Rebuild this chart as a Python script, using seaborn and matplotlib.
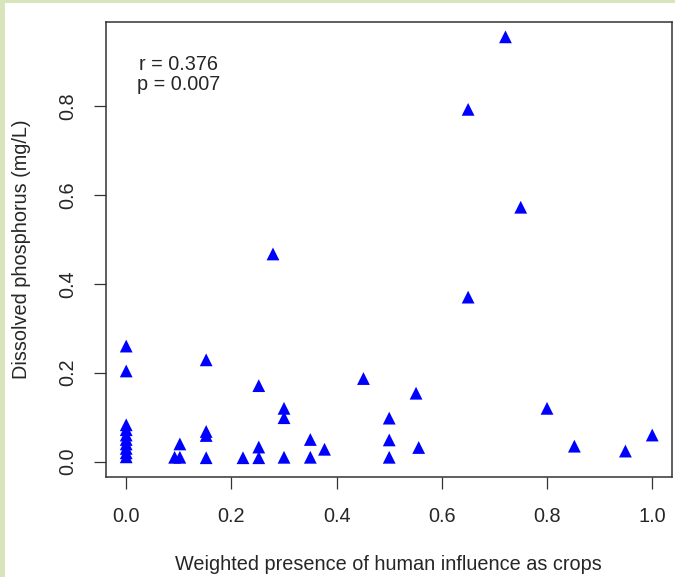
import pandas as pd
import matplotlib
matplotlib.use("Agg")
import matplotlib.pyplot as plt
from matplotlib.patches import Rectangle
import seaborn as sns

# === Data ===
crops = [0.0, 0.0, 0.0, 0.0, 0.0, 0.0, 0.0, 0.0, 0.0, 0.0,
         0.092, 0.102, 0.102,
         0.152, 0.152, 0.152, 0.152,
         0.222,
         0.252, 0.252, 0.252,
         0.279,
         0.30, 0.30, 0.30,
         0.35, 0.35,
         0.377,
         0.451,
         0.50, 0.50, 0.50,
         0.551, 0.556,
         0.65, 0.65,
         0.721,
         0.75,
         0.80,
         0.852,
         0.949,
         1.0]
phosphorus = [0.260, 0.204, 0.083, 0.072, 0.060, 0.050, 0.040, 0.030, 0.020, 0.011,
              0.010, 0.010, 0.040,
              0.229, 0.068, 0.059, 0.009,
              0.009,
              0.171, 0.033, 0.009,
              0.467,
              0.120, 0.099, 0.010,
              0.050, 0.010,
              0.028,
              0.187,
              0.098, 0.049, 0.010,
              0.154, 0.032,
              0.792, 0.370,
              0.955,
              0.572,
              0.120,
              0.035,
              0.024,
              0.060]

x_ticks = [0.0, 0.2, 0.4, 0.6, 0.8, 1.0]
y_ticks = [0.0, 0.2, 0.4, 0.6, 0.8]
stats_text = ["r = 0.376", "p = 0.007"]

df = pd.DataFrame({"crops": crops, "phosphorus": phosphorus})

sns.set_style("white")
plt.rcParams["font.family"] = ["Liberation Sans", "DejaVu Sans"]
fs = 14.3

fig = plt.figure(figsize=(6.75, 5.77), dpi=100)
ax = fig.add_axes([105.7 / 675, 1 - 477.3 / 577, 566 / 675, 455.6 / 577])

sns.scatterplot(data=df, x="crops", y="phosphorus", marker="^", s=85,
                color="#0000ff", edgecolor="none", linewidth=0, ax=ax)

ax.set_xlim(-0.039, 1.037)
ax.set_ylim(-0.035, 0.989)
ax.set_xticks(x_ticks)
ax.set_yticks(y_ticks)
ax.set_xticklabels([f"{t:.1f}" for t in x_ticks])
ax.set_yticklabels([f"{t:.1f}" for t in y_ticks], rotation=90, va="center")
ax.tick_params(axis="both", direction="out", length=8.3, width=0.9,
               color="#333333", labelsize=fs, bottom=True, left=True)
ax.tick_params(axis="x", pad=13.0)
ax.tick_params(axis="y", pad=12.5)

for sp in ax.spines.values():
    sp.set_color("#333333")
    sp.set_linewidth(1.1)

ax.set_xlabel("Weighted presence of human influence as crops", fontsize=fs)
ax.set_ylabel("Dissolved phosphorus (mg/L)", fontsize=fs)
ax.xaxis.set_label_coords(0.5, -(555 - 477.3) / 455.6)
ax.yaxis.set_label_coords(-(105.7 - 31) / 566, 0.5)

# correlation note, two lines
ax.text(0.1286, (477.3 - 70) / 455.6, stats_text[0], transform=ax.transAxes,
        ha="center", va="baseline", fontsize=fs)
ax.text(0.1286, (477.3 - 90) / 455.6, stats_text[1], transform=ax.transAxes,
        ha="center", va="baseline", fontsize=fs)

# light green frame on the left and top edges
fig.add_artist(Rectangle((0, 0), 5 / 675, 1, transform=fig.transFigure,
                         color="#d8e4bc", lw=0))
fig.add_artist(Rectangle((0, 1 - 3 / 577), 1, 3 / 577, transform=fig.transFigure,
                         color="#d8e4bc", lw=0))

fig.savefig("out.png", dpi=100)
